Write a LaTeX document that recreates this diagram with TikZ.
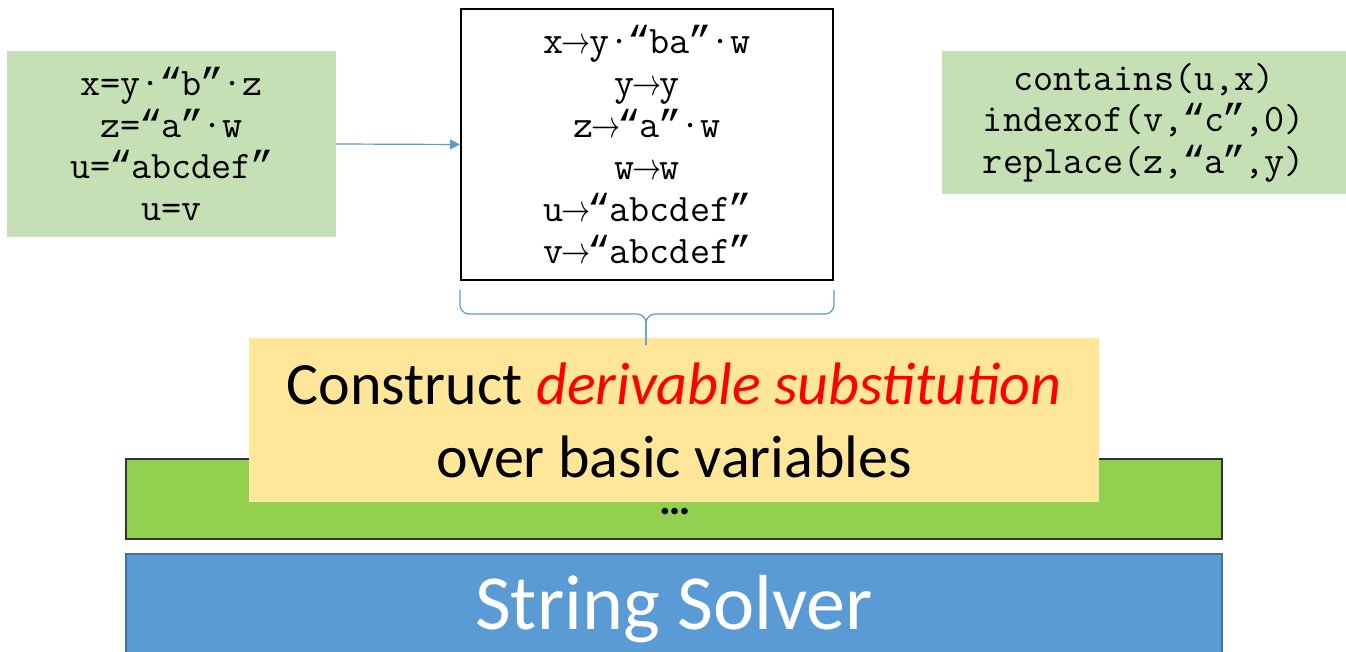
\documentclass[tikz,border=0pt]{standalone}
\usepackage{fontspec}
\setmainfont{Carlito}
\newfontfamily\quotefont{Liberation Mono}
\usetikzlibrary{positioning}
\usetikzlibrary{arrows.meta}
\usepackage{xcolor}
\usepackage{graphicx}

\definecolor{constrgreen}{HTML}{C5E0B4}
\definecolor{constryellow}{HTML}{FFE699}
\definecolor{layergreen}{HTML}{92D050}
\definecolor{solverblue}{HTML}{5B9BD5}
\definecolor{solveredge}{HTML}{41719C}

\newcommand{\substarrow}{\makebox[0.66em]{\smash{\resizebox{29pt}{14pt}{$\rightarrow$}}}}
\newcommand{\codeopen}{\makebox[0.525em]{\quotefont “}}
\newcommand{\codeclose}{\makebox[0.525em]{\quotefont ”}}

\tikzset{
  codebox/.style={inner sep=0pt, align=center, font=\ttfamily\fontsize{39}{41.5}\selectfont},
  bluelink/.style={solverblue, line width=1.2pt},
}

\begin{document}
\begin{tikzpicture}[x=1pt, y=-1pt]

\clip (0,0) rectangle (1346,652);
\fill[white] (0,0) rectangle (1346,652);

% input constraints
\node[codebox, fill=constrgreen, minimum width=329, minimum height=186] (lhs) at (171.5,144)
  {x=y·\codeopen b\codeclose·z\\z=\codeopen a\codeclose·w\\u=\codeopen abcdef\codeclose\\u=v};

% substitution
\node[codebox, draw=black, line width=2pt, fill=white, minimum width=372, minimum height=271,
  font=\ttfamily\fontsize{39}{42}\selectfont] (subst) at (647,144.5)
  {x\substarrow y·\codeopen ba\codeclose·w\\y\substarrow y\\z\substarrow\codeopen a\codeclose·w\\w\substarrow w\\u\substarrow\codeopen abcdef\codeclose\\v\substarrow\codeopen abcdef\codeclose};

\node[codebox, fill=constrgreen, minimum width=404, minimum height=143] (funcs) at (1144,122.5)
  {contains(u,x)\\indexof(v,\codeopen c\codeclose,0)\\replace(z,\codeopen a\codeclose,y)};

\draw[bluelink, -{Triangle[length=10,width=10]}] (lhs.east) -- (subst.west);

% layers
\node[draw=black!80, line width=1.5pt, fill=layergreen, minimum width=1096, minimum height=80] (layer) at (674,499) {};
\node[font=\fontsize{44}{44}\selectfont\bfseries, inner sep=0pt, text height=7pt, text depth=0pt] (dots) at (675,511) {…};

\node[draw=solveredge, line width=1.5pt, fill=solverblue, minimum width=1096, minimum height=110,
  text=white, font=\fontsize{78}{90}\selectfont] (solver) at (674,609) {\raisebox{6pt}{String Solver}};

\node[fill=constryellow, minimum width=850, minimum height=164, align=center, inner sep=0pt,
  font=\fontsize{60}{73}\selectfont] (construct) at (674,420)
  {Construct \textcolor{red}{\itshape derivable substitution}\\over basic variables};

% brace
\coordinate (tip) at (646,345);
\draw[bluelink, rounded corners=9] (subst.south west) ++(0,9) |- (tip |- 0,314) -- (tip);
\draw[bluelink, rounded corners=9] (subst.south east) ++(0,9) |- (tip |- 0,314) -- (tip);

\end{tikzpicture}
\end{document}
